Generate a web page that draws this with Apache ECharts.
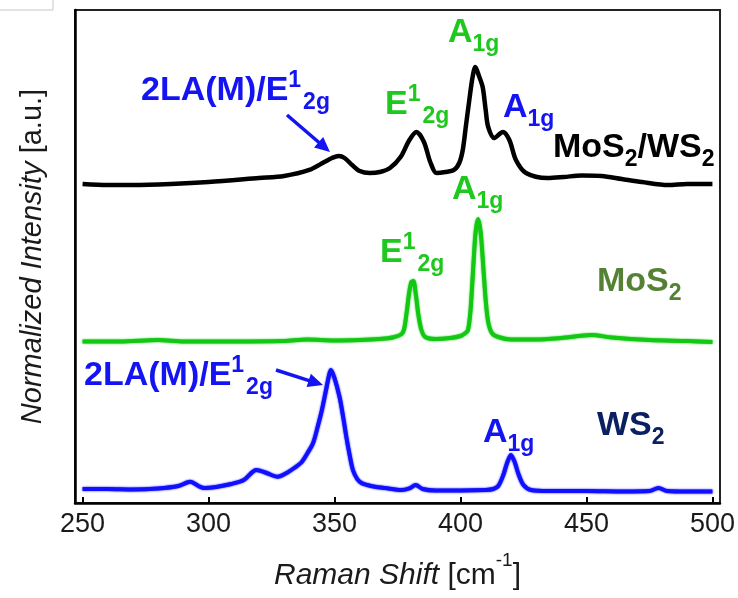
<!DOCTYPE html>
<html><head><meta charset="utf-8">
<script src="https://cdn.jsdelivr.net/npm/echarts@6/dist/echarts.min.js"></script>
<style>html,body{margin:0;padding:0;background:#fff}#c{width:738px;height:598px}</style>
</head><body><div id="c"></div><script>
// ---- data (Raman shift in cm^-1, normalized intensity with vertical offsets) ----
const xTicks = [250, 300, 350, 400, 450, 500];

const wsShift = [250,260,270,280,288,292.8,296,298.4,303,309,314,319,323,327.4,331,334,337,339.3,341.5,343.3,345,346.4,347.6,348.5,350,352,353.5,354.7,356,357.3,359,360.7,363,366,370,376.6,380,382.2,385,390,400,410,413,415,417,418.5,420,421.5,423,425,428,435,450,465,475,478.6,482,490,500];
const wsInt = [2.84,2.84,2.74,2.94,3.45,4.32,3.45,3.04,3.25,3.85,4.67,6.69,6.09,5.33,6.09,7.10,8.32,10.14,12.17,15.42,18.86,22.31,25.35,26.98,25.35,21.50,17.24,13.39,9.74,6.69,4.87,4.06,3.65,3.31,3.04,2.64,3.04,3.65,2.84,2.54,2.54,2.64,2.84,3.45,5.68,8.11,9.74,8.32,5.88,3.65,2.64,2.43,2.43,2.33,2.43,3.04,2.43,2.33,2.33];

const mosShift = [250,265,280,290,310,330,339,350,360,368,373,377,378.5,379.5,380.5,381.3,382.3,383.3,384.5,386,390,396,400,402,403,404,405,406,407,408,409,410,411,412.5,415,420,430,440,452,460,475,490,500];
const mosInt = [32.76,32.76,33.06,32.76,32.76,32.86,33.16,32.96,33.06,33.27,33.57,34.48,38.13,42.19,44.83,45.03,42.19,38.13,35.09,33.67,33.27,33.47,33.87,34.48,35.09,39.15,47.26,54.97,57.61,54.97,48.28,41.18,36.71,34.48,33.67,33.16,33.16,33.47,34.08,33.57,33.06,32.86,32.66];

const hetShift = [250,260,270,285,300,320,330,340,346,349,351.7,354,357,360,364,368,372,376.3,379.5,382.5,385.5,388,390.5,394,397.4,399.5,400.9,402.2,403.5,404.8,405.9,407.2,408.8,410,411,413.4,416.8,419.4,422,426,434.6,441,448,456,464,472,482.4,490,500];
const hetInt = [64.71,64.50,64.50,64.71,65.11,65.92,66.33,67.55,69.17,69.98,70.39,69.98,68.56,67.34,66.94,67.14,67.95,70.24,73.43,75.25,73.23,69.17,66.94,67.14,67.55,68.97,71.60,76.67,81.74,86.41,88.44,86.82,84.38,79.72,76.27,74.04,75.25,73.63,69.57,66.94,65.92,66.13,66.43,66.33,65.72,65.11,64.50,64.71,64.71];

const zip = (a, b) => a.map((v, i) => [v, b[i]]);

const FONT = "'Liberation Sans', Arial, Helvetica, sans-serif";
const BLUE = '#1414f2', GREEN = '#1ec81e';
const ctx = document.createElement('canvas').getContext('2d');
function tw(t, size) { ctx.font = 'bold ' + size + 'px ' + FONT; return ctx.measureText(t).width; }
function label(x, c, parts, color) {
  const els = []; let cx = x;
  parts.forEach(([t, k]) => {
    const size = k === 'n' ? 34 : 23;
    const y = k === 'n' ? c : (k === 'sup' ? c - 10 : c + 12);
    els.push({ type: 'text', x: cx, y: y, z: 100,
      style: { text: t, fill: color, font: 'bold ' + size + 'px ' + FONT, verticalAlign: 'middle', align: 'left' } });
    cx += tw(t, size) + (k === 'sup' ? 2 : 0);
  });
  return els;
}
function arrow(sx, sy, tx, ty, color) {
  const dx = tx - sx, dy = ty - sy, L = Math.hypot(dx, dy), ux = dx / L, uy = dy / L, nx = -uy, ny = ux;
  const hl = 15, hw = 7, bx = tx - ux * hl, by = ty - uy * hl;
  return [
    { type: 'line', z: 100, shape: { x1: sx, y1: sy, x2: bx + ux * 2, y2: by + uy * 2 }, style: { stroke: color, lineWidth: 3.5 } },
    { type: 'polygon', z: 100, shape: { points: [[tx, ty], [bx + nx * hw, by + ny * hw], [bx - nx * hw, by - ny * hw]] }, style: { fill: color } }
  ];
}

const graphics = [
  { type: 'rect', shape: { x: -1, y: -1, width: 54, height: 11 }, style: { fill: '#fff', stroke: '#c8c8c8', lineWidth: 1 } },
  ...label(141, 91, [['2LA(M)/E', 'n'], ['1', 'sup'], ['2g', 'sub']], BLUE),
  ...arrow(287, 115, 330, 152, BLUE),
  ...label(385, 105, [['E', 'n'], ['1', 'sup'], ['2g', 'sub']], GREEN),
  ...label(448, 32.5, [['A', 'n'], ['1g', 'sub']], GREEN),
  ...label(503, 107.5, [['A', 'n'], ['1g', 'sub']], BLUE),
  ...label(553, 147.5, [['MoS', 'n'], ['2', 'sub'], ['/WS', 'n'], ['2', 'sub']], '#000'),
  ...label(452, 190, [['A', 'n'], ['1g', 'sub']], GREEN),
  ...label(380, 252.5, [['E', 'n'], ['1', 'sup'], ['2g', 'sub']], GREEN),
  ...label(597, 282, [['MoS', 'n'], ['2', 'sub']], '#548235'),
  ...label(84, 375.5, [['2LA(M)/E', 'n'], ['1', 'sup'], ['2g', 'sub']], BLUE),
  ...arrow(276, 370, 323, 385, BLUE),
  ...label(483, 433, [['A', 'n'], ['1g', 'sub']], BLUE),
  ...label(597, 426, [['WS', 'n'], ['2', 'sub']], '#0b2060')
];

const chart = echarts.init(document.getElementById('c'), null, { renderer: 'canvas' });
const lineSeries = (data, color, fuzz, w) => ({
  type: 'line', data: data, showSymbol: false, symbol: 'none', smooth: 0.3,
  lineStyle: { color: color, width: w, shadowColor: fuzz ? color : 'transparent', shadowBlur: fuzz ? 2 : 0 },
  itemStyle: { color: color }, silent: true
});
chart.setOption({
  animation: false,
  backgroundColor: '#fff',
  grid: { left: 75, right: 18, top: 10, bottom: 95, show: true, borderColor: '#222', borderWidth: 2, containLabel: false, outerBoundsMode: 'none' },
  xAxis: {
    type: 'value', min: 247, max: 503,
    axisLine: { show: true, onZero: false, lineStyle: { color: '#000', width: 2.5 } },
    axisTick: { show: true, inside: true, length: 6, customValues: xTicks, lineStyle: { color: '#000', width: 2 } },
    axisLabel: { customValues: xTicks, fontSize: 27, color: '#1a1a1a', fontFamily: FONT, margin: 8 },
    splitLine: { show: false },
    name: '{i|Raman Shift }{n|[cm}{s|-1}{n|]}',
    nameLocation: 'middle', nameGap: 48,
    nameTextStyle: {
      color: '#1a1a1a', fontFamily: FONT,
      rich: {
        i: { fontStyle: 'italic', fontSize: 30, lineHeight: 50, fontFamily: FONT, color: '#1a1a1a' },
        n: { fontSize: 30, lineHeight: 50, fontFamily: FONT, color: '#1a1a1a' },
        s: { fontSize: 19, lineHeight: 18, verticalAlign: 'top', fontFamily: FONT, color: '#1a1a1a' }
      }
    }
  },
  yAxis: {
    type: 'value', min: 0, max: 100,
    axisLine: { show: true, lineStyle: { color: '#000', width: 2.5 } },
    axisTick: { show: false }, axisLabel: { show: false }, splitLine: { show: false },
    name: '{i|Normalized Intensity }{n|[a.u.]}',
    nameLocation: 'middle', nameGap: 28, nameRotate: 90,
    nameTextStyle: {
      color: '#1a1a1a', fontFamily: FONT,
      rich: {
        i: { fontStyle: 'italic', fontSize: 29, fontFamily: FONT, color: '#1a1a1a' },
        n: { fontSize: 29, fontFamily: FONT, color: '#1a1a1a' }
      }
    }
  },
  series: [
    lineSeries(zip(wsShift, wsInt), '#1010ff', true, 4),
    lineSeries(zip(mosShift, mosInt), '#12c812', true, 4),
    lineSeries(zip(hetShift, hetInt), '#000000', false, 4.5)
  ],
  graphic: graphics
});
</script></body></html>
